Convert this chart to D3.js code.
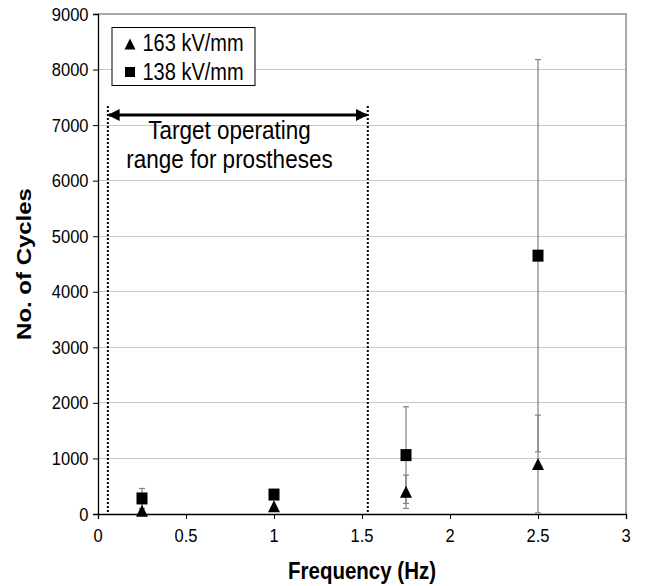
<!DOCTYPE html>
<html><head><meta charset="utf-8">
<script src="https://cdn.jsdelivr.net/npm/d3@7"></script>
<style>body{margin:0;background:#fff}svg{font-family:"Liberation Sans",Arial,sans-serif}</style>
</head><body>
<svg id="c" width="652" height="586"></svg>
<script>
const freq = [0.25, 1.0, 1.75, 2.5];
const s163 = [60, 140, 400, 900];
const s163Err = [0, 0, 300, 880];
const s138 = [280, 350, 1060, 4650];
const s138Err = [180, 0, 870, 3530];
const xTicks = [0, 0.5, 1, 1.5, 2, 2.5, 3];
const yTicks = [0,1000,2000,3000,4000,5000,6000,7000,8000,9000];
const rangeBounds = [0.056, 1.533];
const seriesNames = ["163 kV/mm", "138 kV/mm"];

const svg = d3.select("#c");
const L=98,R=626,T=14,B=514;
const VS = 1.15; // vertical text stretch
const x = d3.scaleLinear().domain([0,3]).range([L,R]);
const y = d3.scaleLinear().domain([0,9000]).range([B,T]);

function txt(xp, yp, s, size, anchor, bold){
  return svg.append("text").attr("transform",`translate(${xp},${yp}) scale(1,${VS})`)
    .attr("text-anchor",anchor||"start").attr("font-size",size)
    .attr("font-weight",bold?"bold":"normal").attr("fill","#000").text(s);
}

// gridlines
svg.append("g").selectAll("line").data(yTicks.slice(1)).join("line")
 .attr("x1",L).attr("x2",R).attr("y1",d=>y(d)).attr("y2",d=>y(d))
 .attr("stroke","#c8c8c8").attr("stroke-width",1).attr("shape-rendering","crispEdges");
// top/right border
svg.append("path").attr("d",`M${L},${T}H${R}V${B}`).attr("fill","none")
 .attr("stroke","#a8a8a8").attr("stroke-width",1.3).attr("shape-rendering","crispEdges");

// axes
const xAx = svg.append("g").attr("transform",`translate(0,${B})`)
 .call(d3.axisBottom(x).tickValues(xTicks).tickSize(5).tickFormat(""));
const yAx = svg.append("g").attr("transform",`translate(${L},0)`)
 .call(d3.axisLeft(y).tickValues(yTicks).tickSize(5).tickFormat(""));
[xAx,yAx].forEach(a=>{
 a.select(".domain").attr("stroke","#000").attr("stroke-width",1.3);
 a.selectAll(".tick line").attr("stroke","#000");});
xTicks.forEach(t=>txt(x(t), 542, d3.format("")(t), 16.5, "middle"));
yTicks.forEach(t=>txt(88.5, y(t)+6.5, String(t), 16.5, "end"));

// dotted range lines
svg.append("g").selectAll("line").data(rangeBounds).join("line")
 .attr("x1",d=>x(d)).attr("x2",d=>x(d)).attr("y1",106).attr("y2",B)
 .attr("stroke","#000").attr("stroke-width",2).attr("stroke-dasharray","2,2");

// arrow
const defs = svg.append("defs");
defs.append("marker").attr("id","ah").attr("viewBox","0 0 10 10").attr("refX",9).attr("refY",5)
 .attr("markerWidth",4.5).attr("markerHeight",4).attr("orient","auto-start-reverse").attr("markerUnits","strokeWidth")
 .append("path").attr("d","M0,0L10,5L0,10Z").attr("fill","#000");
svg.append("line").attr("x1",x(rangeBounds[0])+1).attr("x2",x(rangeBounds[1])-1).attr("y1",115).attr("y2",115)
 .attr("stroke","#000").attr("stroke-width",3).attr("marker-start","url(#ah)").attr("marker-end","url(#ah)");
txt(229.5, 138.5, "Target operating", 22.5, "middle");
txt(229.5, 168, "range for prostheses", 22.5, "middle");

// error bars
function errBars(vals, errs){
 const g = svg.append("g").attr("stroke","#808080").attr("stroke-width",1.2);
 vals.forEach((v,i)=>{
  if(!errs[i]) return;
  const cx = x(freq[i]);
  g.append("line").attr("x1",cx).attr("x2",cx).attr("y1",y(v+errs[i])).attr("y2",y(v-errs[i]));
  [v+errs[i], v-errs[i]].forEach(e=>g.append("line").attr("x1",cx-3).attr("x2",cx+3).attr("y1",y(e)).attr("y2",y(e)));
 });
}
errBars(s138, s138Err);
errBars(s163, s163Err);

// markers
const triPath = (w,h)=>`M0,${-h/2}L${w/2},${h/2}L${-w/2},${h/2}Z`;
svg.append("g").selectAll("rect").data(s138).join("rect")
 .attr("x",(d,i)=>x(freq[i])-5.5).attr("y",d=>y(d)-6).attr("width",11).attr("height",12).attr("fill","#000");
svg.append("g").selectAll("path").data(s163).join("path")
 .attr("d",triPath(12,12)).attr("transform",(d,i)=>`translate(${x(freq[i])},${y(d)})`).attr("fill","#000");

// legend
svg.append("rect").attr("x",112).attr("y",27.5).attr("width",143).attr("height",58)
 .attr("fill","#fff").attr("stroke","#000").attr("stroke-width",1);
svg.append("path").attr("d",triPath(11,11)).attr("transform","translate(130,44)").attr("fill","#000");
svg.append("rect").attr("x",125).attr("y",67).attr("width",10).attr("height",10).attr("fill","#000");
txt(142.5, 50.5, seriesNames[0], 20);
txt(142.5, 79.5, seriesNames[1], 20);

// axis titles
txt(362, 579, "Frequency (Hz)", 20.5, "middle", true);
svg.append("text").attr("transform","translate(31,264) rotate(-90) scale(1.17,1)").attr("text-anchor","middle")
 .attr("font-size",20.5).attr("font-weight","bold").text("No. of Cycles");
</script>
</body></html>
